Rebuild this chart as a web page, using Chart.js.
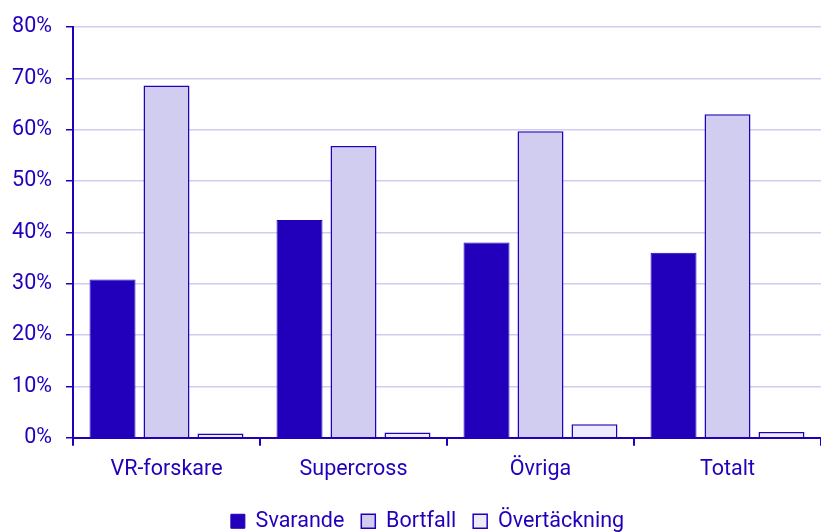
<!DOCTYPE html>
<html><head><meta charset="utf-8">
<script src="https://cdn.jsdelivr.net/npm/chart.js@4/dist/chart.umd.min.js"></script>
<style>html,body{margin:0;padding:0;background:#fff}#w{width:821px;height:532px}</style>
</head><body><div id="w"><canvas id="c"></canvas></div>
<script>
const categories = ["VR-forskare", "Supercross", "Övriga", "Totalt"];
const svarande = [30.8, 42.4, 38.0, 36.0];
const bortfall = [68.6, 56.8, 59.7, 63.0];
const overtackning = [0.8, 1.0, 2.6, 1.1];
const yTicks = [0, 10, 20, 30, 40, 50, 60, 70, 80];

const dark = '#2200bb';
const font = {family: 'Roboto', size: 21.5};
const legendShift = {
  id: 'legendShift',
  afterLayout(chart) {
    if (chart.legend) { chart.legend.left += 17; chart.legend.right += 17; }
  }
};
new Chart(document.getElementById('c'), {
  type: 'bar',
  data: {
    labels: categories,
    datasets: [
      {label: 'Svarande', data: svarande, backgroundColor: dark, borderColor: dark, borderWidth: 1},
      {label: 'Bortfall', data: bortfall, backgroundColor: '#d0cdf0', borderColor: dark, borderWidth: 1.5},
      {label: 'Övertäckning', data: overtackning, backgroundColor: '#ececfc', borderColor: dark, borderWidth: 1.5}
    ]
  },
  plugins: [legendShift],
  options: {
    responsive: true, maintainAspectRatio: false, animation: false,
    categoryPercentage: 0.866, barPercentage: 0.852,
    layout: {padding: {top: 25, right: 0, left: 0, bottom: -10}},
    plugins: {
      legend: {position: 'bottom', labels: {color: dark, font: font, boxWidth: 14, boxHeight: 14, padding: 17}},
      tooltip: {enabled: false}
    },
    scales: {
      x: {
        grid: {display: true, drawOnChartArea: false, offset: true, color: dark, tickColor: dark, tickLength: 8, lineWidth: 2},
        border: {color: dark, width: 2},
        ticks: {color: dark, font: font, padding: 11}
      },
      y: {
        min: 0, max: 80,
        afterBuildTicks: s => { s.ticks = yTicks.map(v => ({value: v})); },
        afterFit: s => { s.width = 73; },
        grid: {color: '#d0cdf0', tickColor: dark, tickLength: 7, lineWidth: 1.5},
        border: {color: dark, width: 2},
        ticks: {color: dark, font: font, padding: 14, callback: v => v + '%'}
      }
    }
  }
});
</script></body></html>
